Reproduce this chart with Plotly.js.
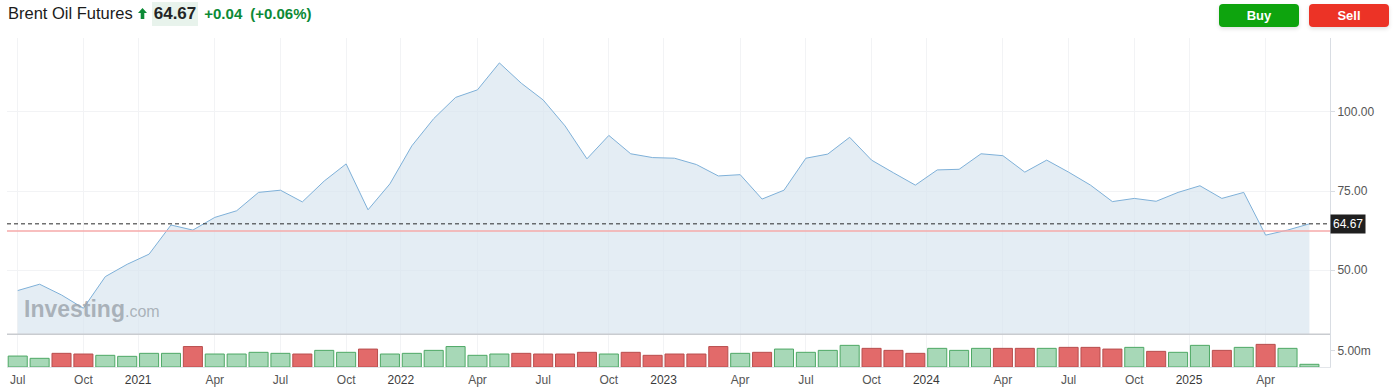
<!DOCTYPE html>
<html>
<head>
<meta charset="utf-8">
<script src="https://cdn.plot.ly/plotly-3.0.1.min.js"></script>
<style>
  html, body { margin: 0; padding: 0; background: #fff; }
  #wrap { position: relative; width: 1398px; height: 391px; overflow: hidden; font-family: "Liberation Sans", Arial, sans-serif; }
  #chart { position: absolute; left: 0; top: 0; width: 1398px; height: 391px; }
  .hdr { position: absolute; top: 0; left: 0; height: 27px; display: flex; align-items: center; white-space: nowrap; }
  .title { margin-left: 8px; font-size: 16.5px; color: #1b1b1b; }
  .arrow { margin-left: 5px; width: 9px; height: 11px; display: inline-block; }
  .price { margin-left: 5px; font-size: 17px; font-weight: bold; color: #232526; background: #e8f3ec; padding: 2px 2px; }
  .chg { margin-left: 6px; font-size: 15px; font-weight: bold; color: #0c8a36; }
  .btn { position: absolute; top: 4px; width: 80px; height: 23px; border-radius: 4px; color: #fff; font-weight: bold; font-size: 13px; text-align: center; line-height: 23px; box-shadow: 0 2px 4px rgba(0,0,0,0.12); }
  .buy { left: 1219px; background: #0ea40e; }
  .sell { left: 1309px; background: #ec3326; }
</style>
</head>
<body>
<div id="wrap">
  <div id="chart"></div>
  <div class="hdr">
    <span class="title">Brent Oil Futures</span>
    <svg class="arrow" viewBox="0 0 9 11"><polygon points="4.5,0 9,5 6.3,5 6.3,11 2.7,11 2.7,5 0,5" fill="#0c8a36"/></svg>
    <span class="price">64.67</span>
    <span class="chg">+0.04</span>
    <span class="chg" style="margin-left:8px">(+0.06%)</span>
  </div>
  <div class="btn buy">Buy</div>
  <div class="btn sell">Sell</div>
</div>
<script>
// Monthly categories (Jul 2020 .. Jun 2025)
const months = [
  '2020-07','2020-08','2020-09','2020-10','2020-11','2020-12',
  '2021-01','2021-02','2021-03','2021-04','2021-05','2021-06','2021-07','2021-08','2021-09','2021-10','2021-11','2021-12',
  '2022-01','2022-02','2022-03','2022-04','2022-05','2022-06','2022-07','2022-08','2022-09','2022-10','2022-11','2022-12',
  '2023-01','2023-02','2023-03','2023-04','2023-05','2023-06','2023-07','2023-08','2023-09','2023-10','2023-11','2023-12',
  '2024-01','2024-02','2024-03','2024-04','2024-05','2024-06','2024-07','2024-08','2024-09','2024-10','2024-11','2024-12',
  '2025-01','2025-02','2025-03','2025-04','2025-05','2025-06'
];
// Monthly close prices (USD)
const closes = [
  43.6, 45.6, 42.2, 38.0, 48.0, 51.9,
  55.1, 64.3, 62.7, 66.7, 68.8, 74.6, 75.3, 71.6, 78.2, 83.6, 69.1, 77.3,
  89.3, 97.9, 104.6, 107.0, 115.5, 109.1, 103.8, 95.6, 85.2, 92.6, 86.8, 85.6,
  85.4, 83.4, 79.8, 80.2, 72.5, 75.3, 85.4, 86.7, 92.0, 84.8, 80.8, 76.9,
  81.7, 81.9, 86.8, 86.2, 81.0, 84.8, 81.0, 76.9, 71.7, 72.7, 71.8, 74.6,
  76.7, 72.7, 74.6, 61.1, 62.7, 64.67
];
// Monthly volume (millions of contracts)
const volumes = [
  3.36, 2.66, 4.19, 3.98, 3.58, 3.27,
  4.19, 4.19, 6.27, 3.98, 3.98, 4.50, 4.19, 3.98, 5.10, 4.50, 5.50, 3.98,
  4.19, 5.10, 6.27, 3.58, 3.98, 4.19, 3.98, 3.98, 4.50, 3.98, 4.50, 3.58,
  3.98, 3.98, 6.27, 4.19, 4.50, 5.50, 4.50, 5.10, 6.64, 5.72, 5.10, 4.19,
  5.72, 5.10, 5.72, 5.72, 5.72, 5.72, 6.02, 6.02, 5.50, 6.02, 4.80, 4.50,
  6.64, 5.10, 6.02, 6.94, 5.72, 0.83
];
const lastPrice = 64.67;
const refLine = 62.4;          // pink reference line level
const priceTicks = [50, 75, 100];
const volTicks = [5];
const volTickText = ['5.00m'];
const monthNames = {'04':'Apr', '07':'Jul', '10':'Oct'};

const idx = months.map((m, i) => i);

// tick labels derived from the categories
const tickvals = [], ticktext = [];
months.forEach((m, i) => {
  const [yr, mo] = m.split('-');
  if (mo === '01') { tickvals.push(i - 0.5); ticktext.push('<span style="color:#3a3a3a">' + yr + '</span>'); }
  else if (monthNames[mo]) { tickvals.push(i); ticktext.push(monthNames[mo]); }
});

// bar colours from month-over-month change
const up = closes.map((c, i) => i === 0 || c >= closes[i - 1]);
const fillCol = up.map(u => u ? '#a7d8b7' : '#e26a6a');
const lineCol = up.map(u => u ? '#4ea865' : '#b84e4e');

const priceTrace = {
  x: idx, y: closes, type: 'scatter', mode: 'lines',
  line: {color: '#7eb0d8', width: 1},
  fill: 'tozeroy', fillcolor: 'rgba(214,228,238,0.65)',
  xaxis: 'x', yaxis: 'y', hoverinfo: 'skip'
};
const volTrace = {
  x: idx, y: volumes, type: 'bar', width: 0.87,
  marker: {color: fillCol, line: {color: lineCol, width: 1}},
  xaxis: 'x', yaxis: 'y2', hoverinfo: 'skip'
};

const tickFont = {family: '"Liberation Sans", Arial, sans-serif', size: 12, color: '#555'};

const layout = {
  width: 1398, height: 391,
  margin: {l: 7, r: 68, t: 38, b: 24},
  paper_bgcolor: '#fff', plot_bgcolor: '#fff',
  showlegend: false, hovermode: false, bargap: 0,
  xaxis: {
    range: [-0.49, 59.94], anchor: 'y2',
    tickvals: tickvals, ticktext: ticktext, tickfont: tickFont,
    showgrid: true, gridcolor: '#f2f3f5', gridwidth: 1,
    zeroline: false, ticks: '', showline: true, linecolor: '#e3e6ea',
    ticklabelstandoff: 2, fixedrange: true
  },
  yaxis: {
    domain: [0.0994, 1], range: [29.78, 123.37], side: 'right',
    tickvals: priceTicks, tickformat: '.2f', tickfont: tickFont,
    showgrid: true, gridcolor: '#f2f3f5', zeroline: false,
    ticks: 'outside', ticklen: 4, tickcolor: '#d9dde3',
    showline: true, linecolor: '#d9dde3', fixedrange: true
  },
  yaxis2: {
    domain: [0, 0.0994], range: [0, 10.03], side: 'right',
    tickvals: volTicks, ticktext: volTickText, tickfont: tickFont,
    showgrid: false, zeroline: false,
    ticks: 'outside', ticklen: 4, tickcolor: '#d9dde3',
    showline: true, linecolor: '#d9dde3', fixedrange: true
  },
  shapes: [
    {type: 'line', xref: 'paper', yref: 'y', x0: 0, x1: 1, y0: refLine, y1: refLine,
     line: {color: 'rgba(245,170,170,0.75)', width: 2}},
    {type: 'line', xref: 'paper', yref: 'y', x0: 0, x1: 1, y0: lastPrice, y1: lastPrice,
     line: {color: '#2a2a2a', width: 1, dash: '4px,3px'}},
    {type: 'line', xref: 'paper', yref: 'y domain', x0: 0, x1: 1, y0: 0, y1: 0,
     line: {color: '#c9ccd0', width: 1.5}}
  ],
  annotations: [
    {xref: 'paper', yref: 'y', x: 1, y: lastPrice, xanchor: 'left', yanchor: 'middle',
     text: lastPrice.toFixed(2), showarrow: false, bgcolor: '#1f1f1f', borderpad: 2,
     font: {family: '"Liberation Sans", Arial, sans-serif', size: 12, color: '#fff'}},
    {xref: 'paper', yref: 'y', x: 0.0113, y: 37.8, xanchor: 'left', yanchor: 'middle',
     text: '<b>Investing</b><span style="font-size:16px">.com</span>', showarrow: false,
     font: {family: '"Liberation Sans", Arial, sans-serif', size: 23, color: 'rgba(150,158,166,0.75)'}}
  ]
};

Plotly.newPlot('chart', [priceTrace, volTrace], layout, {displayModeBar: false, staticPlot: true});
</script>
</body>
</html>
